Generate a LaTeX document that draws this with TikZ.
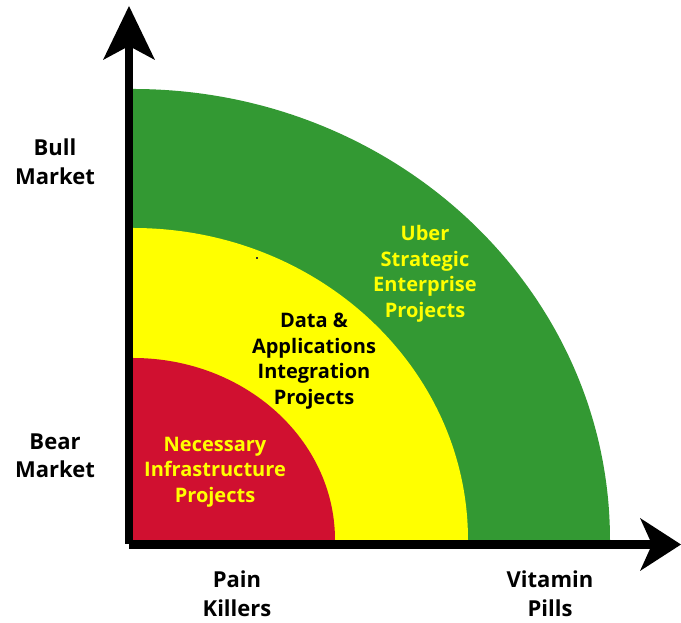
\documentclass[tikz,border=0pt]{standalone}
\usepackage{fontspec}
\setmainfont{Open Sans}
\definecolor{qgreen}{RGB}{51,153,51}
\definecolor{qred}{RGB}{208,16,48}
\definecolor{qyellow}{RGB}{255,255,0}
\begin{document}
\begin{tikzpicture}[x=1pt,y=1pt,
  axislabel/.style={align=center,font=\bfseries\fontsize{22}{28.5}\selectfont,text=black,inner sep=0pt},
  regionlabel/.style={align=center,font=\bfseries\fontsize{20}{25.5}\selectfont,inner sep=0pt}]
\useasboundingbox (0,0) rectangle (681,623);
\fill[white] (0,0) rectangle (681,623);
% regions (quarter ellipses centred at the corner)
\coordinate (O) at (133,83);
\fill[qgreen] (O) -- ++(477,0) arc[start angle=0,end angle=90,x radius=477,y radius=451] -- cycle;
\fill[qyellow] (O) -- ++(335,0) arc[start angle=0,end angle=90,x radius=335,y radius=312] -- cycle;
\fill[qred] (O) -- ++(202,0) arc[start angle=0,end angle=90,x radius=202,y radius=182] -- cycle;
% stray dot
\fill[black!80] (256.3,364.3) rectangle (257.7,365.7);
% axes
\fill[black] (125,79) rectangle (133,578);
\fill[black] (129,74) rectangle (655,83);
\fill[black] (129,617) -- (155,563) -- (129,577) -- (103,563) -- cycle;
\fill[black] (681,78.5) -- (640,52) -- (652,78.5) -- (640,105) -- cycle;
% labels
\node[axislabel] (bull) at (55,461) {Bull\\Market};
\node[axislabel] (bear) at (55,167) {Bear\\Market};
\node[axislabel] (pain) at (237,29) {Pain\\Killers};
\node[axislabel] (vit) at (550,29) {Vitamin\\Pills};
\node[regionlabel,text=qyellow] (nec) at (215,151) {Necessary\\Infrastructure\\Projects};
\node[regionlabel,text=black] (data) at (314,262) {Data \&\\Applications\\Integration\\Projects};
\node[regionlabel,text=qyellow] (uber) at (425,349) {Uber\\Strategic\\Enterprise\\Projects};
\end{tikzpicture}
\end{document}
